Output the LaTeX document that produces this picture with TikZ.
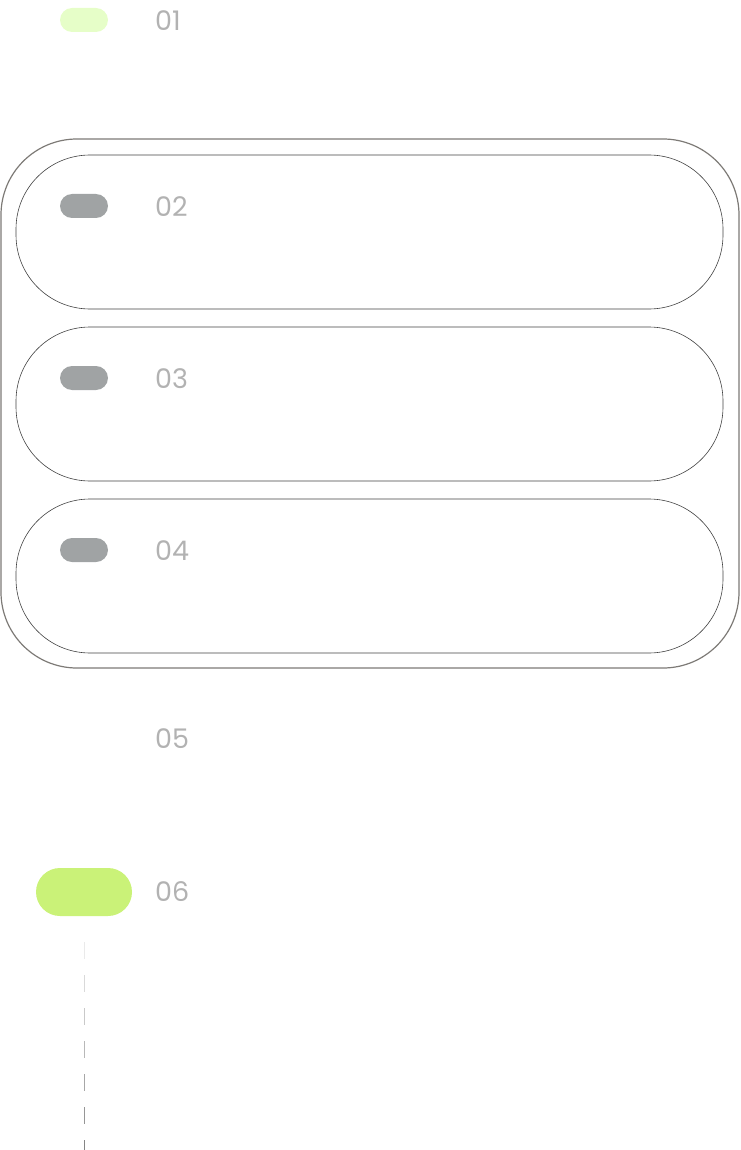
\documentclass[tikz,border=0pt]{standalone}
\usepackage{fontspec}
\setmainfont{Poppins}
\usepackage{xcolor}
\definecolor{pale-green}{RGB}{230,254,200}
\definecolor{lime-green}{RGB}{202,242,120}
\definecolor{pill-grey}{RGB}{160,163,164}
\definecolor{label-grey}{RGB}{178,178,178}
\definecolor{frame-grey}{RGB}{125,122,118}
\begin{document}
\begin{tikzpicture}[x=1pt,y=-1pt,
	pill/.style={rounded corners=12pt},
	lbl/.style={anchor=west,text=label-grey,font=\fontsize{27}{29}\selectfont,inner sep=0pt},
	card/.style={draw=black!75,line width=.6pt,rounded corners=74pt}]
	\useasboundingbox (0,0) rectangle (740,1150);
	% outer frame and cards
	\draw[frame-grey,line width=1.2pt,rounded corners=76pt] (1,139) rectangle (739,668);
	\foreach \y in {155,327,499}
		\draw[card] (16,\y) rectangle (723,\y+154);
	% markers
	\fill[pale-green,pill] (60,8) rectangle (108,32);
	\foreach \y in {194,366,538}
		\fill[pill-grey,pill] (60,\y) rectangle (108,\y+24);
	\fill[lime-green,rounded corners=24pt] (36,868) rectangle (132,916);
	% labels
	\path
		(155,21) node[lbl] (l1) {01}
		(155,207) node[lbl] (l2) {02}
		(155,379) node[lbl] (l3) {03}
		(155,551) node[lbl] (l4) {04}
		(155,739) node[lbl] (l5) {05}
		(155,892) node[lbl] (l6) {06};
	% fading dashes
	\foreach \i in {0,...,6}{
		\pgfmathsetmacro\op{0.15+0.12*\i}
		\draw[black!55,line width=1pt,opacity=\op] (84,942+33*\i) -- (84,959+33*\i);
	}
\end{tikzpicture}
\end{document}
